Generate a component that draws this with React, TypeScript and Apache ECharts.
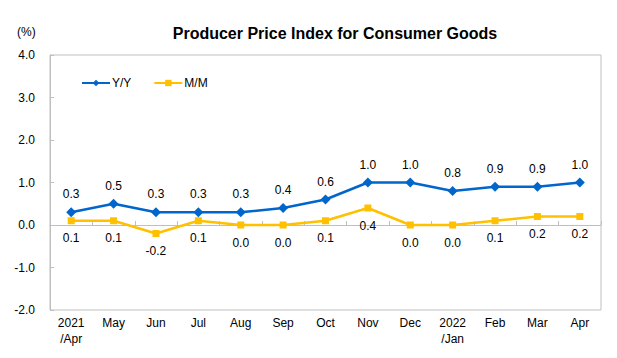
import React, { useEffect, useRef } from "react";
import * as echarts from "echarts";

const categories = ["2021\n/Apr", "May", "Jun", "Jul", "Aug", "Sep", "Oct", "Nov", "Dec", "2022\n/Jan", "Feb", "Mar", "Apr"];
const yoy = [0.3, 0.5, 0.3, 0.3, 0.3, 0.4, 0.6, 1.0, 1.0, 0.8, 0.9, 0.9, 1.0];
const mom = [0.1, 0.1, -0.2, 0.1, 0.0, 0.0, 0.1, 0.4, 0.0, 0.0, 0.1, 0.2, 0.2];
const title = "Producer Price Index for Consumer Goods";
const unit = "(%)";

const FONT = "'Liberation Sans', Arial, sans-serif";

export default function App() {
  const ref = useRef<HTMLDivElement>(null);
  useEffect(() => {
    const chart = echarts.init(ref.current!, null, { renderer: "svg" });
    chart.setOption({
      animation: false,
      backgroundColor: "#fff",
      textStyle: { fontFamily: FONT },
      title: {
        text: title,
        left: 330,
        textAlign: "center",
        top: 20,
        textStyle: { fontSize: 16, fontWeight: "bold", color: "#000", fontFamily: FONT },
      },
      graphic: [
        {
          type: "text",
          left: 17,
          top: 26,
          style: { text: unit, fontSize: 12, fill: "#000", fontFamily: FONT },
        },
      ],
      legend: {
        left: 76,
        top: 72,
        itemWidth: 28,
        itemHeight: 8,
        itemGap: 22,
        textStyle: { fontSize: 12, color: "#000", fontFamily: FONT, padding: [0, 0, 0, -3] },
        data: ["Y/Y", "M/M"],
      },
      grid: {
        left: 50,
        top: 55,
        right: 16,
        bottom: 48,
        show: true,
        borderColor: "#bfbfbf",
        borderWidth: 1,
      },
      xAxis: [
        {
          type: "category",
          data: categories,
          position: "bottom",
          axisLine: { show: false, onZero: false },
          axisTick: { show: false },
          axisLabel: { color: "#000", fontSize: 12, margin: 5, lineHeight: 16, fontFamily: FONT, interval: 0 },
        },
        {
          type: "category",
          data: categories,
          position: "bottom",
          axisLine: { show: true, onZero: true, lineStyle: { color: "#bfbfbf", width: 1 } },
          axisTick: { show: true, inside: true, length: 4, lineStyle: { color: "#bfbfbf" } },
          axisLabel: { show: false },
        },
      ],
      yAxis: {
        type: "value",
        min: -2,
        max: 4,
        interval: 1,
        axisLine: { show: true, lineStyle: { color: "#bfbfbf" } },
        axisTick: { show: true, inside: true, length: 4, lineStyle: { color: "#bfbfbf" } },
        splitLine: { show: false },
        axisLabel: {
          color: "#000",
          fontSize: 12,
          margin: 15,
          fontFamily: FONT,
          formatter: (v: number) => v.toFixed(1),
        },
      },
      series: [
        {
          name: "Y/Y",
          type: "line",
          data: yoy,
          color: "#0066CC",
          symbol: "diamond",
          symbolSize: 10,
          lineStyle: { width: 2.5, color: "#0066CC" },
          itemStyle: { color: "#0066CC" },
          label: {
            show: true,
            position: "top",
            distance: 7,
            fontSize: 12,
            color: "#000",
            fontFamily: FONT,
            formatter: (p: any) => Number(p.value).toFixed(1),
          },
        },
        {
          name: "M/M",
          type: "line",
          data: mom,
          color: "#FFC000",
          symbol: "rect",
          symbolSize: 7,
          lineStyle: { width: 2.5, color: "#FFC000" },
          itemStyle: { color: "#FFC000" },
          label: {
            show: true,
            position: "bottom",
            distance: 8,
            fontSize: 12,
            color: "#000",
            fontFamily: FONT,
            formatter: (p: any) => Number(p.value).toFixed(1),
          },
        },
      ],
    });
    return () => chart.dispose();
  }, []);
  return <div ref={ref} style={{ width: 617, height: 358, position: "absolute", left: 0, top: 0 }} />;
}
